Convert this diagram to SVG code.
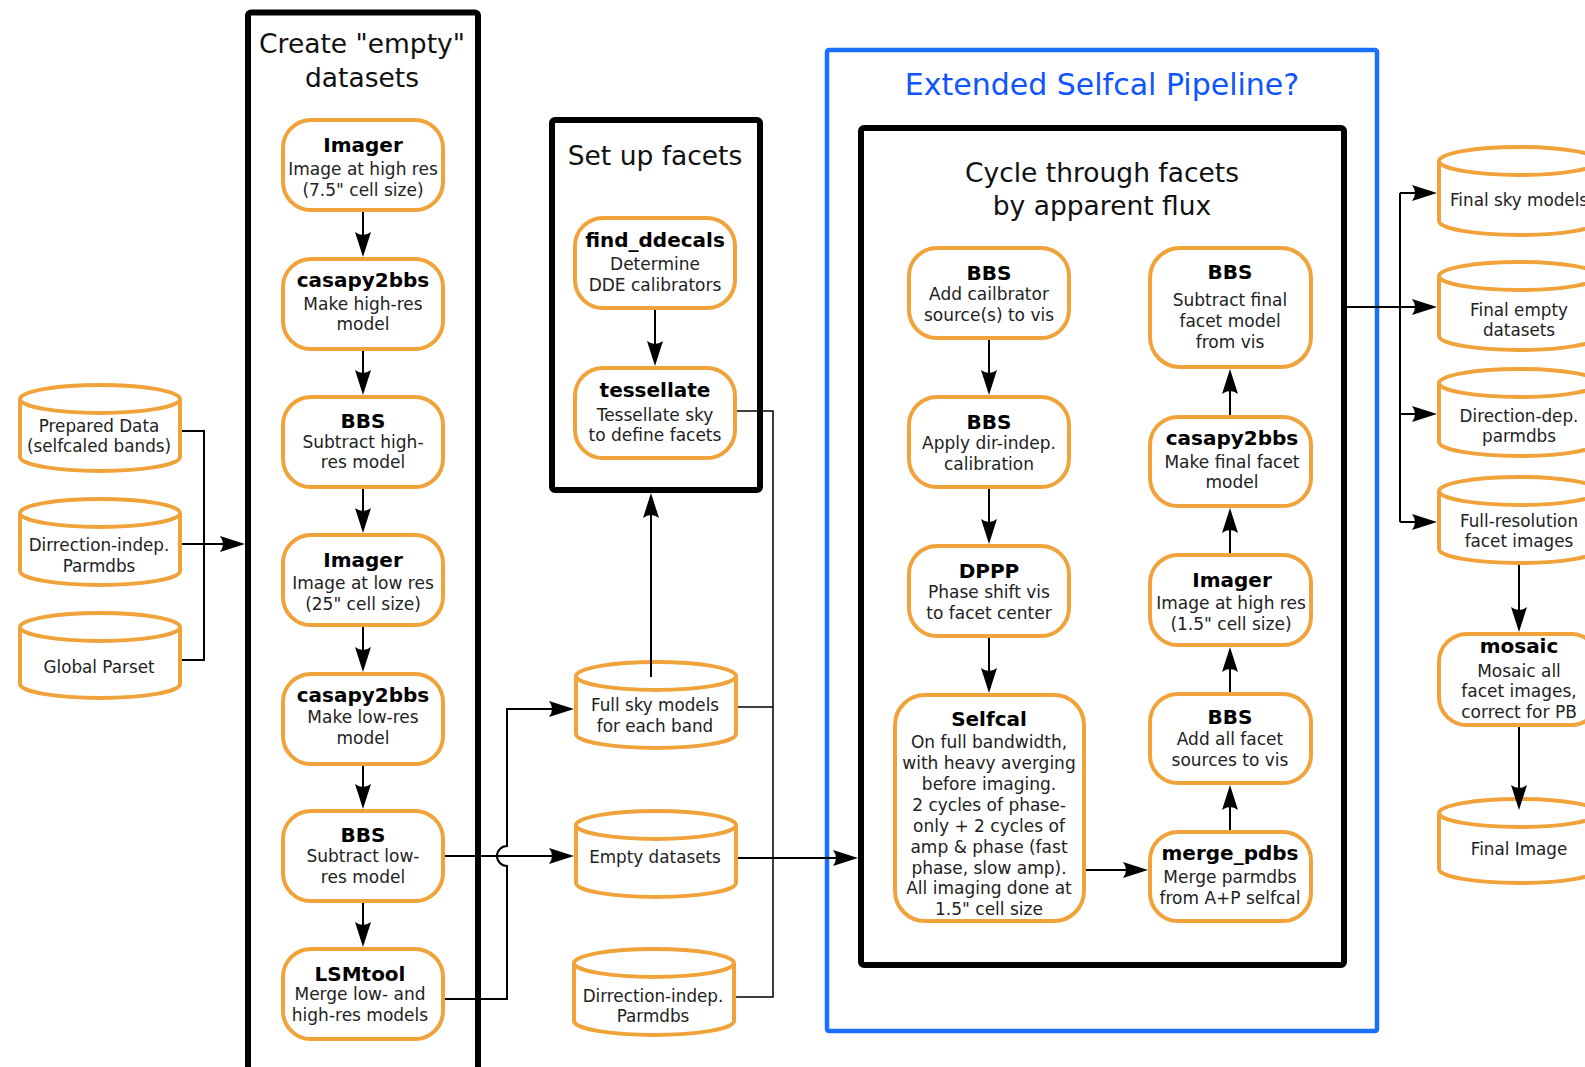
<svg xmlns="http://www.w3.org/2000/svg" width="1585" height="1067" viewBox="0 0 1585 1067">
<style>
.node rect{fill:#fff;stroke:#f0a33a;stroke-width:4}
.cyl path,.cyl ellipse{fill:#fff;stroke:#f0a33a;stroke-width:4}
text{font-family:"DejaVu Sans","Liberation Sans",sans-serif;text-anchor:middle}
.h{font-size:20px;font-weight:bold;fill:#000}
.s{font-size:17px;fill:#222}
.c{font-size:16.8px;fill:#222}
.ti{font-size:26.5px;fill:#111}
.frame{fill:none;stroke:#000;stroke-width:6;stroke-linejoin:round}
.conn path{fill:none;stroke:#000;stroke-width:2}
.conn path.thin{stroke-width:1.5}
.arr{marker-end:url(#ah)}
</style>
<defs>
<marker id="ah" markerUnits="userSpaceOnUse" markerWidth="30" markerHeight="20" refX="-3" refY="0" orient="auto" overflow="visible">
<path d="M0,0 L-25,-8 Q-19,0 -25,8 Z" fill="#000"/>
</marker>
</defs>
<rect width="1585" height="1067" fill="#fff"/>

<!-- frames -->
<g id="frame-create">
<rect class="frame" x="248" y="12.5" width="230" height="1070" rx="3"/>
<text class="ti" x="362" y="53">Create "empty"</text>
<text class="ti" x="362" y="87">datasets</text>
</g>
<g id="frame-setup">
<rect class="frame" x="552" y="120" width="208" height="370" rx="3"/>
<text class="ti" x="655" y="165">Set up facets</text>
</g>
<g id="frame-extended">
<rect x="827" y="50" width="550" height="981" rx="2" fill="none" stroke="#1a6fff" stroke-width="4.5"/>
<text x="1102" y="95" style="font-size:30px;fill:#0f55ff">Extended Selfcal Pipeline?</text>
</g>
<g id="frame-cycle">
<rect class="frame" x="861" y="128" width="483" height="837" rx="3"/>
<text class="ti" x="1102" y="182">Cycle through facets</text>
<text class="ti" x="1102" y="215">by apparent flux</text>
</g>

<!-- left inputs -->
<g id="in-prepared" class="cyl">
<path d="M20,399 L20,457 A80,14 0 0 0 180,457 L180,399"/><ellipse cx="100" cy="399" rx="80" ry="14"/>
<text class="c" x="99" y="432">Prepared Data</text><text class="c" x="99" y="452">(selfcaled bands)</text>
</g>
<g id="in-dirindep" class="cyl">
<path d="M20,513 L20,571 A80,14 0 0 0 180,571 L180,513"/><ellipse cx="100" cy="513" rx="80" ry="14"/>
<text class="c" x="99" y="551">Dirrection-indep.</text><text class="c" x="99" y="572">Parmdbs</text>
</g>
<g id="in-parset" class="cyl">
<path d="M20,627 L20,684 A80,14 0 0 0 180,684 L180,627"/><ellipse cx="100" cy="627" rx="80" ry="14"/>
<text class="c" x="99" y="673">Global Parset</text>
</g>

<!-- create column -->
<g id="c-imager1" class="node"><rect x="283" y="120" width="160" height="90" rx="28"/>
<text class="h" x="363" y="152">Imager</text><text class="s" x="363" y="175">Image at high res</text><text class="s" x="363" y="196">(7.5" cell size)</text></g>
<g id="c-casapy1" class="node"><rect x="283" y="259" width="160" height="90" rx="28"/>
<text class="h" x="363" y="287">casapy2bbs</text><text class="s" x="363" y="310">Make high-res</text><text class="s" x="363" y="330">model</text></g>
<g id="c-bbs1" class="node"><rect x="283" y="397" width="160" height="90" rx="28"/>
<text class="h" x="363" y="428">BBS</text><text class="s" x="363" y="448">Subtract high-</text><text class="s" x="363" y="468">res model</text></g>
<g id="c-imager2" class="node"><rect x="283" y="535" width="160" height="90" rx="28"/>
<text class="h" x="363" y="567">Imager</text><text class="s" x="363" y="589">Image at low res</text><text class="s" x="363" y="610">(25" cell size)</text></g>
<g id="c-casapy2" class="node"><rect x="283" y="674" width="160" height="90" rx="28"/>
<text class="h" x="363" y="702">casapy2bbs</text><text class="s" x="363" y="723">Make low-res</text><text class="s" x="363" y="744">model</text></g>
<g id="c-bbs2" class="node"><rect x="283" y="811" width="160" height="90" rx="28"/>
<text class="h" x="363" y="842">BBS</text><text class="s" x="363" y="862">Subtract low-</text><text class="s" x="363" y="883">res model</text></g>
<g id="c-lsmtool" class="node"><rect x="283" y="949" width="160" height="90" rx="28"/>
<text class="h" x="360" y="981">LSMtool</text><text class="s" x="360" y="1000">Merge low- and</text><text class="s" x="360" y="1021">high-res models</text></g>

<!-- setup facets -->
<g id="s-find" class="node"><rect x="575" y="218" width="160" height="90" rx="28"/>
<text class="h" x="655" y="247">find_ddecals</text><text class="s" x="655" y="270">Determine</text><text class="s" x="655" y="291">DDE calibrators</text></g>
<g id="s-tess" class="node"><rect x="575" y="368" width="160" height="90" rx="28"/>
<text class="h" x="655" y="397">tessellate</text><text class="s" x="655" y="421">Tessellate sky</text><text class="s" x="655" y="441">to define facets</text></g>

<!-- middle cylinders -->
<g id="m-fullsky" class="cyl">
<path d="M576,676 L576,734 A80,14 0 0 0 736,734 L736,676"/><ellipse cx="656" cy="676" rx="80" ry="14"/>
<text class="c" x="655" y="711">Full sky models</text><text class="c" x="655" y="732">for each band</text>
</g>
<g id="m-empty" class="cyl">
<path d="M576,825 L576,883 A80,14 0 0 0 736,883 L736,825"/><ellipse cx="656" cy="825" rx="80" ry="14"/>
<text class="c" x="655" y="863">Empty datasets</text>
</g>
<g id="m-dirindep" class="cyl">
<path d="M574,963 L574,1021 A80,14 0 0 0 734,1021 L734,963"/><ellipse cx="654" cy="963" rx="80" ry="14"/>
<text class="c" x="653" y="1002">Dirrection-indep.</text><text class="c" x="653" y="1022">Parmdbs</text>
</g>

<!-- cycle left -->
<g id="y-bbs-add" class="node"><rect x="909" y="248" width="160" height="90" rx="28"/>
<text class="h" x="989" y="280">BBS</text><text class="s" x="989" y="300">Add cailbrator</text><text class="s" x="989" y="321">source(s) to vis</text></g>
<g id="y-bbs-apply" class="node"><rect x="909" y="397" width="160" height="90" rx="28"/>
<text class="h" x="989" y="429">BBS</text><text class="s" x="989" y="449">Apply dir-indep.</text><text class="s" x="989" y="470">calibration</text></g>
<g id="y-dppp" class="node"><rect x="909" y="546" width="160" height="90" rx="28"/>
<text class="h" x="989" y="578">DPPP</text><text class="s" x="989" y="598">Phase shift vis</text><text class="s" x="989" y="619">to facet center</text></g>
<g id="y-selfcal" class="node"><rect x="895" y="695" width="189" height="226" rx="30"/>
<text class="h" x="989" y="726">Selfcal</text>
<text class="s" x="989" y="748">On full bandwidth,</text>
<text class="s" x="989" y="769">with heavy averging</text>
<text class="s" x="989" y="790">before imaging.</text>
<text class="s" x="989" y="811">2 cycles of phase-</text>
<text class="s" x="989" y="832">only + 2 cycles of</text>
<text class="s" x="989" y="853">amp &amp; phase (fast</text>
<text class="s" x="989" y="874">phase, slow amp).</text>
<text class="s" x="989" y="894">All imaging done at</text>
<text class="s" x="989" y="915">1.5" cell size</text></g>

<!-- cycle right -->
<g id="y-bbs-sub" class="node"><rect x="1150" y="248" width="161" height="119" rx="30"/>
<text class="h" x="1230" y="279">BBS</text><text class="s" x="1230" y="306">Subtract final</text><text class="s" x="1230" y="327">facet model</text><text class="s" x="1230" y="348">from vis</text></g>
<g id="y-casapy" class="node"><rect x="1150" y="417" width="161" height="89" rx="28"/>
<text class="h" x="1232" y="445">casapy2bbs</text><text class="s" x="1232" y="468">Make final facet</text><text class="s" x="1232" y="488">model</text></g>
<g id="y-imager" class="node"><rect x="1150" y="555" width="161" height="90" rx="28"/>
<text class="h" x="1232" y="587">Imager</text><text class="s" x="1231" y="609">Image at high res</text><text class="s" x="1231" y="630">(1.5" cell size)</text></g>
<g id="y-bbs-addall" class="node"><rect x="1150" y="694" width="161" height="89" rx="28"/>
<text class="h" x="1230" y="724">BBS</text><text class="s" x="1230" y="745">Add all facet</text><text class="s" x="1230" y="766">sources to vis</text></g>
<g id="y-merge" class="node"><rect x="1150" y="832" width="161" height="89" rx="28"/>
<text class="h" x="1230" y="860">merge_pdbs</text><text class="s" x="1230" y="883">Merge parmdbs</text><text class="s" x="1230" y="904">from A+P selfcal</text></g>

<!-- outputs -->
<g id="o-sky" class="cyl">
<path d="M1439,161 L1439,221 A80,14 0 0 0 1599,221 L1599,161"/><ellipse cx="1519" cy="161" rx="80" ry="14"/>
<text class="c" x="1519" y="206">Final sky models</text>
</g>
<g id="o-empty" class="cyl">
<path d="M1439,276 L1439,336 A80,14 0 0 0 1599,336 L1599,276"/><ellipse cx="1519" cy="276" rx="80" ry="14"/>
<text class="c" x="1519" y="316">Final empty</text><text class="c" x="1519" y="336">datasets</text>
</g>
<g id="o-ddparm" class="cyl">
<path d="M1439,383 L1439,442 A80,14 0 0 0 1599,442 L1599,383"/><ellipse cx="1519" cy="383" rx="80" ry="14"/>
<text class="c" x="1519" y="422">Direction-dep.</text><text class="c" x="1519" y="442">parmdbs</text>
</g>
<g id="o-fullres" class="cyl">
<path d="M1439,491 L1439,549 A80,14 0 0 0 1599,549 L1599,491"/><ellipse cx="1519" cy="491" rx="80" ry="14"/>
<text class="c" x="1519" y="527">Full-resolution</text><text class="c" x="1519" y="547">facet images</text>
</g>
<g id="o-mosaic" class="node"><rect x="1439" y="634" width="160" height="91" rx="28"/>
<text class="h" x="1519" y="653">mosaic</text><text class="s" x="1519" y="677">Mosaic all</text><text class="s" x="1519" y="697">facet images,</text><text class="s" x="1519" y="718">correct for PB</text></g>
<g id="o-final" class="cyl">
<path d="M1439,813 L1439,869 A80,14 0 0 0 1599,869 L1599,813"/><ellipse cx="1519" cy="813" rx="80" ry="14"/>
<text class="c" x="1519" y="855">Final Image</text>
</g>

<!-- connectors -->
<g id="connectors" class="conn">
<path class="arr" d="M363,212 V254"/>
<path class="arr" d="M363,351 V392"/>
<path class="arr" d="M363,489 V530"/>
<path class="arr" d="M363,627 V669"/>
<path class="arr" d="M363,766 V806"/>
<path class="arr" d="M363,903 V944"/>
<path d="M182,431 H204 V660 H182"/>
<path class="arr" d="M182,544 H242"/>
<path class="arr" d="M655,310 V363"/>
<path class="arr" d="M651,677 V496"/>
<path class="thin" d="M737,411 H773 V997 H736"/>
<path class="thin" d="M738,707 H773"/>
<path class="arr" d="M738,858 H855"/>
<path class="arr" d="M445,856 H571"/>
<path class="arr" d="M445,999 H507 V866 A10,10 0 0 1 507,846 V709 H571"/>
<path class="arr" d="M989,340 V392"/>
<path class="arr" d="M989,489 V541"/>
<path class="arr" d="M989,638 V690"/>
<path class="arr" d="M1086,870 H1145"/>
<path class="arr" d="M1230,830 V788"/>
<path class="arr" d="M1230,692 V650"/>
<path class="arr" d="M1230,553 V511"/>
<path class="arr" d="M1230,415 V372"/>
<path class="arr" d="M1347,307 H1434"/>
<path d="M1400,193 V522"/>
<path class="arr" d="M1400,193 H1434"/>
<path class="arr" d="M1400,414 H1434"/>
<path class="arr" d="M1400,522 H1434"/>
<path class="arr" d="M1519,565 V629"/>
<path class="arr" d="M1519,727 V807"/>
</g>
</svg>
